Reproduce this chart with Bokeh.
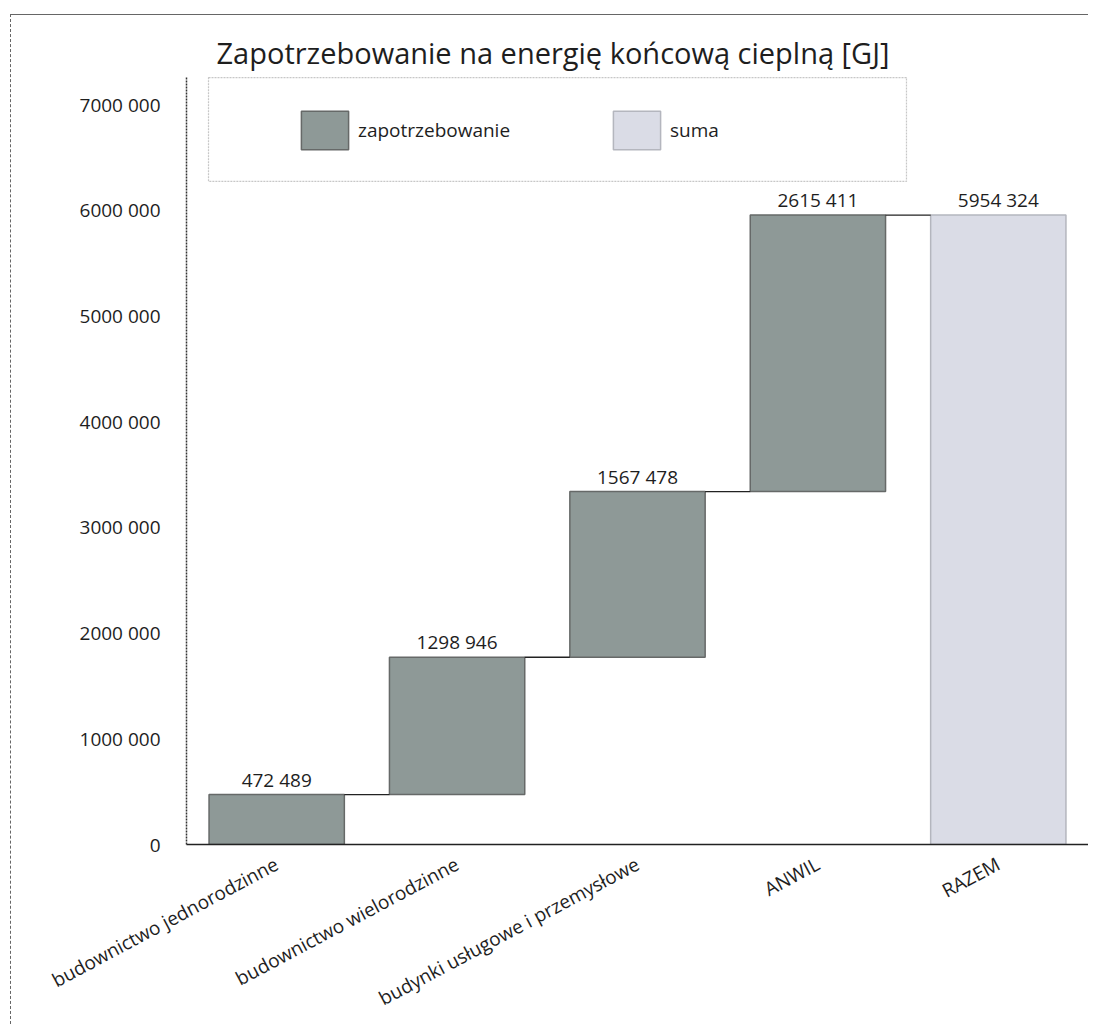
from bokeh.plotting import figure
from bokeh.models import (FixedTicker, Legend, LegendItem, BoxAnnotation, Range1d,
                          ColumnDataSource)
from bokeh.embed import file_html
from bokeh.resources import INLINE
from bokeh.core.properties import value

# ---- data ----
categories = ["budownictwo jednorodzinne", "budownictwo wielorodzinne",
              "budynki usługowe i przemysłowe", "ANWIL", "RAZEM"]
demand = [472489, 1298946, 1567478, 2615411]
total = [5954324]
y_ticks = [0, 1000000, 2000000, 3000000, 4000000, 5000000, 6000000, 7000000]
y_tick_labels = ["0", "1000 000", "2000 000", "3000 000", "4000 000",
                 "5000 000", "6000 000", "7000 000"]
title_text = "Zapotrzebowanie na energię końcową cieplną [GJ]"
legend_labels = ["zapotrzebowanie", "suma"]


def fmt(v):
    return f"{v // 1000} {v % 1000:03d}" if v >= 1000 else str(v)


# waterfall geometry derived from data
bottoms, tops = [], []
run = 0
for v in demand:
    bottoms.append(run)
    run += v
    tops.append(run)
xs = list(range(len(demand)))
x_tot = [len(demand)]

FONT = "Open Sans"
ML, MT = 10, 14          # outer chart-area offset
W, H = 1078, 1010
BAR_W = 0.75
TXT = "#1e1e1e"

p = figure(width=W, height=H, x_range=Range1d(-0.5, len(categories) - 0.5),
           y_range=Range1d(0, 7265000), output_backend="svg", toolbar_location=None,
           min_border_left=185 - ML, min_border_right=1, min_border_top=75 - MT,
           min_border_bottom=MT + H - 843)
p.margin = (MT, 0, 0, ML)
p.styles = {"border-left": "1px dashed #666666", "border-top": "1px solid #666666"}
p.background_fill_color = "white"
p.border_fill_color = "white"
p.outline_line_color = None
p.grid.visible = False

p.title.text = title_text
p.title.text_font = FONT
p.title.text_font_size = "29px"
p.title.text_font_style = "normal"
p.title.text_color = TXT
p.title.align = "left"
p.title.offset = 30
p.title.standoff = 9

src_d = ColumnDataSource(dict(x=xs, bottom=bottoms, top=tops,
                              lab=[fmt(v) for v in demand]))
src_t = ColumnDataSource(dict(x=x_tot, bottom=[0], top=total,
                              lab=[fmt(v) for v in total]))

r1 = p.vbar(x="x", bottom="bottom", top="top", width=BAR_W, source=src_d,
            fill_color="#8e9997", line_color="#666968", line_width=1.5)
r2 = p.vbar(x="x", bottom="bottom", top="top", width=BAR_W, source=src_t,
            fill_color="#dadce6", line_color="#b4b6be", line_width=1.5)

# connectors
cx0 = [x + BAR_W / 2 for x in xs]
cx1 = [x + 1 - BAR_W / 2 for x in xs]
p.segment(x0=cx0, x1=cx1, y0=tops, y1=tops, line_color="#222222", line_width=1.3)

# data labels
for src in (src_d, src_t):
    p.text(x="x", y="top", text="lab", source=src, text_align="center",
           text_baseline="bottom", y_offset=-2, text_font=value(FONT),
           text_font_size="19px", text_color=TXT)

# axes
p.yaxis.ticker = FixedTicker(ticks=y_ticks)
p.yaxis.major_label_overrides = {t: l for t, l in zip(y_ticks, y_tick_labels)}
p.yaxis.major_label_text_font = FONT
p.yaxis.major_label_text_font_size = "19px"
p.yaxis.major_label_text_color = TXT
p.yaxis.major_tick_line_color = None
p.yaxis.minor_tick_line_color = None
p.yaxis.major_label_standoff = 20
p.yaxis.axis_line_color = "#333333"
p.yaxis.axis_line_dash = "2 1"
p.yaxis.axis_line_width = 1.5

p.xaxis.ticker = FixedTicker(ticks=list(range(len(categories))))
p.xaxis.major_label_overrides = {i: c for i, c in enumerate(categories)}
p.xaxis.major_label_orientation = 0.49
p.xaxis.major_label_text_font = FONT
p.xaxis.major_label_text_font_size = "19px"
p.xaxis.major_label_text_color = TXT
p.xaxis.major_tick_line_color = None
p.xaxis.minor_tick_line_color = None
p.xaxis.major_label_standoff = 12
p.xaxis.axis_line_color = "#222222"
p.xaxis.axis_line_width = 1.5

# legend
legend = Legend(items=[LegendItem(label=legend_labels[0], renderers=[r1]),
                       LegendItem(label=legend_labels[1], renderers=[r2])],
                orientation="horizontal", location=(79, 660),
                glyph_width=59, glyph_height=48, padding=30, spacing=69,
                label_width=180, label_standoff=4,
                label_text_font=FONT, label_text_font_size="19px",
                label_text_color=TXT, label_text_baseline="bottom",
                border_line_alpha=0, background_fill_alpha=0)
p.add_layout(legend, "center")

box = BoxAnnotation(left=-0.378, right=3.491, bottom=6272000, top=7255000,
                    fill_alpha=0, line_color="#444444", line_dash="2 1",
                    line_width=1.2)
p.add_layout(box)

open("out.html", "w").write(file_html(p, INLINE))
